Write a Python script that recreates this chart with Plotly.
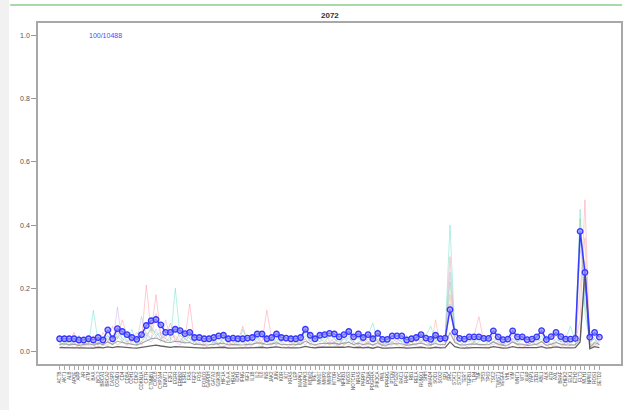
import plotly.graph_objects as go

# ---- data -------------------------------------------------------------
title_text = "2072"
count_text = "100/10488"

labels = ["ACTB","AKT1","ALB","APOE","APP","AR","ATM","BAX","BCL2","BRCA1",
"BRCA2","CASP3","CCND1","CD4","CD8A","CDH1","CDK2","CDKN1A","CFTR","CTNNB1",
"CXCL8","CYP3A4","DNMT1","E2F1","EGFR","ERBB2","ESR1","FAS","FGF2","FOS",
"FOXO3","GAPDH","GATA3","GSK3B","HIF1A","HLA-A","HRAS","IDH1","IFNG","IGF1",
"IL1B","IL2","IL6","INS","JAK2","JUN","KDR","KIT","KRAS","LEP",
"MAPK1","MAPK3","MDM2","MET","MKI67","MMP2","MMP9","MTOR","MYC","NFKB1",
"NOS3","NOTCH1","NRAS","PARP1","PCNA","PDGFRA","PIK3CA","PML","PPARG","PTEN",
"PTGS2","RAC1","RAF1","RB1","RELA","RUNX1","SHH","SMAD4","SOD1","SOX2",
"SP1","SRC","STAT1","STAT3","TERT","TGFB1","TLR4","TNF","TP53","TP63",
"TSC2","TWIST1","VEGFA","VHL","VIM","WNT1","WT1","XIAP","YAP1","ZEB1",
"ABL1","ALK","ATR","AXL","BRAF","CHEK2","ELK1","EZH2","FLT3","MLH1",
"NPM1","ROS1","SETD2"]

# highlighted profile
focus = [0.040,0.040,0.040,0.040,0.036,0.036,0.040,0.036,0.044,0.036,
0.068,0.040,0.072,0.063,0.053,0.044,0.038,0.053,0.082,0.097,
0.101,0.084,0.060,0.060,0.070,0.066,0.056,0.060,0.044,0.044,
0.040,0.040,0.044,0.049,0.051,0.040,0.042,0.040,0.040,0.042,
0.044,0.055,0.055,0.040,0.044,0.055,0.044,0.042,0.040,0.040,
0.044,0.070,0.051,0.040,0.051,0.053,0.057,0.055,0.046,0.053,
0.063,0.046,0.055,0.044,0.053,0.040,0.057,0.038,0.038,0.049,
0.049,0.049,0.036,0.040,0.044,0.053,0.042,0.038,0.051,0.040,
0.042,0.132,0.062,0.041,0.039,0.046,0.046,0.046,0.041,0.041,
0.065,0.046,0.037,0.039,0.065,0.046,0.046,0.037,0.039,0.046,
0.066,0.037,0.047,0.060,0.047,0.039,0.039,0.041,0.380,0.250,
0.045,0.060,0.045]

# summary profiles
dark_profile = [0.012,0.012,0.011,0.012,0.010,0.011,0.012,0.010,0.013,0.011,
0.014,0.012,0.015,0.013,0.012,0.011,0.010,0.012,0.016,0.018,
0.020,0.017,0.014,0.013,0.015,0.014,0.013,0.013,0.011,0.011,
0.010,0.011,0.012,0.012,0.013,0.010,0.011,0.010,0.011,0.011,
0.012,0.014,0.013,0.011,0.012,0.014,0.012,0.011,0.010,0.011,
0.012,0.016,0.013,0.011,0.013,0.013,0.014,0.013,0.012,0.013,
0.015,0.012,0.013,0.011,0.013,0.010,0.014,0.010,0.010,0.012,
0.012,0.012,0.010,0.011,0.012,0.013,0.011,0.010,0.013,0.011,
0.012,0.030,0.015,0.011,0.010,0.012,0.012,0.012,0.011,0.011,
0.015,0.012,0.010,0.011,0.015,0.012,0.012,0.010,0.011,0.012,
0.015,0.010,0.012,0.014,0.012,0.011,0.011,0.012,0.030,0.260,
0.008,0.015,0.012]

mid_profile = [0.022,0.024,0.020,0.023,0.019,0.021,0.024,0.020,0.026,0.021,
0.030,0.022,0.032,0.028,0.025,0.022,0.020,0.026,0.034,0.040,
0.042,0.036,0.029,0.028,0.032,0.030,0.027,0.028,0.022,0.023,
0.020,0.021,0.023,0.025,0.026,0.020,0.022,0.021,0.020,0.022,
0.023,0.027,0.026,0.021,0.023,0.027,0.022,0.021,0.020,0.021,
0.023,0.032,0.025,0.020,0.025,0.026,0.027,0.026,0.023,0.025,
0.029,0.022,0.026,0.021,0.025,0.020,0.027,0.019,0.020,0.024,
0.024,0.024,0.019,0.021,0.023,0.026,0.021,0.020,0.025,0.021,
0.022,0.060,0.028,0.021,0.020,0.023,0.023,0.023,0.021,0.021,
0.030,0.023,0.019,0.020,0.030,0.023,0.023,0.019,0.020,0.023,
0.031,0.019,0.023,0.028,0.023,0.020,0.020,0.021,0.040,0.230,
0.012,0.028,0.022]

# background profiles
pink = [0.02,0.05,0.03,0.06,0.02,0.04,0.03,0.05,0.02,0.06,
0.03,0.08,0.04,0.10,0.05,0.03,0.06,0.04,0.21,0.06,
0.18,0.05,0.04,0.09,0.03,0.06,0.04,0.15,0.03,0.05,
0.02,0.04,0.03,0.05,0.06,0.02,0.04,0.03,0.08,0.03,
0.04,0.05,0.03,0.13,0.04,0.05,0.03,0.04,0.02,0.05,
0.03,0.07,0.04,0.03,0.05,0.06,0.03,0.04,0.02,0.05,
0.06,0.03,0.05,0.02,0.04,0.03,0.07,0.02,0.03,0.04,
0.03,0.05,0.02,0.04,0.03,0.06,0.03,0.02,0.05,0.03,
0.04,0.30,0.05,0.03,0.04,0.03,0.05,0.11,0.03,0.04,
0.05,0.03,0.02,0.04,0.05,0.03,0.04,0.02,0.03,0.05,
0.06,0.03,0.04,0.05,0.03,0.02,0.04,0.03,0.10,0.48,
0.02,0.05,0.03]

teal = [0.03,0.02,0.04,0.02,0.05,0.03,0.02,0.13,0.03,0.02,
0.05,0.03,0.06,0.04,0.03,0.07,0.02,0.05,0.04,0.08,
0.05,0.06,0.04,0.03,0.20,0.05,0.04,0.03,0.05,0.04,
0.03,0.05,0.02,0.04,0.03,0.05,0.04,0.02,0.07,0.03,
0.05,0.04,0.06,0.03,0.04,0.03,0.05,0.04,0.03,0.02,
0.04,0.06,0.03,0.05,0.04,0.03,0.05,0.04,0.03,0.04,
0.03,0.05,0.04,0.03,0.05,0.09,0.03,0.04,0.02,0.05,
0.04,0.03,0.05,0.03,0.04,0.03,0.05,0.08,0.03,0.04,
0.05,0.40,0.06,0.04,0.03,0.05,0.03,0.04,0.05,0.03,
0.04,0.05,0.03,0.04,0.06,0.03,0.05,0.04,0.03,0.04,
0.05,0.03,0.04,0.06,0.03,0.04,0.08,0.03,0.45,0.12,
0.03,0.04,0.02]

green = [0.02,0.03,0.02,0.04,0.03,0.02,0.05,0.03,0.02,0.04,
0.04,0.02,0.05,0.03,0.06,0.02,0.04,0.03,0.05,0.07,
0.06,0.04,0.03,0.05,0.08,0.04,0.03,0.05,0.02,0.04,
0.02,0.03,0.04,0.02,0.05,0.03,0.02,0.04,0.03,0.02,
0.03,0.05,0.02,0.04,0.03,0.02,0.04,0.03,0.05,0.02,
0.03,0.04,0.02,0.05,0.03,0.04,0.02,0.03,0.04,0.02,
0.05,0.02,0.03,0.04,0.02,0.05,0.03,0.02,0.04,0.03,
0.02,0.04,0.03,0.02,0.05,0.03,0.04,0.02,0.03,0.05,
0.03,0.22,0.04,0.02,0.03,0.04,0.02,0.03,0.04,0.02,
0.03,0.04,0.02,0.05,0.03,0.02,0.04,0.03,0.02,0.04,
0.03,0.05,0.02,0.04,0.03,0.05,0.02,0.04,0.42,0.20,
0.02,0.03,0.04]

salmon = [0.01,0.02,0.03,0.01,0.02,0.01,0.03,0.02,0.01,0.02,
0.02,0.04,0.02,0.03,0.02,0.05,0.02,0.03,0.06,0.04,
0.12,0.05,0.03,0.04,0.05,0.03,0.06,0.04,0.03,0.02,
0.02,0.01,0.02,0.03,0.02,0.01,0.03,0.02,0.01,0.02,
0.02,0.03,0.01,0.05,0.02,0.03,0.02,0.01,0.02,0.03,
0.02,0.04,0.02,0.01,0.02,0.03,0.02,0.03,0.01,0.02,
0.03,0.02,0.01,0.02,0.03,0.02,0.04,0.01,0.02,0.03,
0.02,0.01,0.02,0.03,0.02,0.04,0.02,0.01,0.10,0.02,
0.03,0.18,0.03,0.02,0.01,0.02,0.03,0.02,0.02,0.01,
0.03,0.02,0.01,0.02,0.03,0.02,0.01,0.02,0.03,0.02,
0.03,0.02,0.01,0.03,0.02,0.01,0.02,0.02,0.20,0.36,
0.01,0.02,0.02]

lavender = [0.02,0.01,0.02,0.03,0.01,0.02,0.02,0.01,0.03,0.02,
0.03,0.02,0.14,0.03,0.02,0.03,0.05,0.02,0.04,0.03,
0.05,0.03,0.10,0.04,0.03,0.02,0.04,0.03,0.02,0.03,
0.01,0.02,0.03,0.02,0.01,0.03,0.02,0.02,0.03,0.01,
0.02,0.04,0.02,0.03,0.01,0.02,0.03,0.02,0.01,0.02,
0.03,0.02,0.04,0.02,0.01,0.02,0.03,0.02,0.02,0.03,
0.02,0.03,0.02,0.01,0.03,0.02,0.02,0.03,0.01,0.02,
0.03,0.02,0.01,0.02,0.02,0.03,0.02,0.02,0.03,0.01,
0.02,0.15,0.03,0.02,0.02,0.01,0.03,0.02,0.02,0.03,
0.02,0.03,0.02,0.01,0.04,0.02,0.02,0.01,0.03,0.02,
0.02,0.03,0.02,0.02,0.01,0.03,0.02,0.02,0.32,0.28,
0.02,0.02,0.03]

sky = [0.03,0.04,0.02,0.03,0.05,0.02,0.04,0.03,0.02,0.04,
0.05,0.03,0.04,0.06,0.03,0.04,0.03,0.11,0.05,0.04,
0.07,0.04,0.05,0.06,0.04,0.03,0.05,0.04,0.03,0.04,
0.03,0.04,0.03,0.02,0.04,0.03,0.05,0.03,0.04,0.02,
0.04,0.03,0.05,0.03,0.02,0.04,0.03,0.05,0.03,0.04,
0.02,0.05,0.03,0.04,0.03,0.05,0.04,0.03,0.02,0.04,
0.04,0.03,0.02,0.05,0.03,0.04,0.03,0.04,0.02,0.03,
0.04,0.03,0.02,0.04,0.03,0.05,0.03,0.02,0.04,0.03,
0.04,0.25,0.05,0.03,0.02,0.04,0.03,0.05,0.03,0.04,
0.03,0.05,0.02,0.03,0.04,0.03,0.05,0.02,0.04,0.03,
0.04,0.03,0.05,0.03,0.04,0.02,0.03,0.04,0.36,0.15,
0.03,0.04,0.02]

background = [
    (pink, "rgba(255,120,140,0.38)"),
    (teal, "rgba(60,215,185,0.38)"),
    (green, "rgba(120,205,120,0.38)"),
    (salmon, "rgba(240,150,110,0.38)"),
    (lavender, "rgba(190,150,230,0.38)"),
    (sky, "rgba(130,180,240,0.38)"),
]

# ---- figure -----------------------------------------------------------
x = list(range(len(labels)))
n = len(labels)
pad = 0.04 * (n - 1)

fig = go.Figure()

for values, color in background:
    fig.add_trace(go.Scatter(x=x, y=values, mode="lines",
                             line=dict(color=color, width=1),
                             hoverinfo="skip", showlegend=False))

fig.add_trace(go.Scatter(x=x, y=mid_profile, mode="lines",
                         line=dict(color="rgba(140,140,140,0.75)", width=1.1),
                         showlegend=False))
fig.add_trace(go.Scatter(x=x, y=dark_profile, mode="lines",
                         line=dict(color="rgba(70,70,70,0.85)", width=1.3),
                         showlegend=False))
fig.add_trace(go.Scatter(x=x, y=focus, mode="lines+markers",
                         line=dict(color="#3a3aff", width=1.5),
                         marker=dict(symbol="circle", size=5.5,
                                     color="rgba(150,150,255,0.7)",
                                     line=dict(color="#3535ff", width=1.3)),
                         showlegend=False))

# plot area spans x 38..623 px and y 23..364 px of the page
L, R, T, B, W, H = 38, 1, 23, 46, 624, 410
pw, ph = W - L - R, H - T - B

def px_x(p):
    return (p - L) / pw

def px_y(p):
    return (H - B - p) / ph

fig.update_layout(
    width=W, height=H,
    margin=dict(l=L, r=R, t=T, b=B),
    paper_bgcolor="white", plot_bgcolor="white",
    font=dict(family="Liberation Sans, Arial, sans-serif", color="#444"),
    xaxis=dict(range=[-pad, n - 1 + pad], tickmode="array", tickvals=x,
               ticktext=labels, tickangle=-90, tickfont=dict(size=4.5, color="#555"),
               ticks="outside", ticklen=4, tickcolor="#aaa", tickwidth=1,
               showgrid=False, zeroline=False, showline=True, mirror=True,
               linecolor="#a8a8a8", linewidth=1.5),
    yaxis=dict(range=[-0.04, 1.04], tickvals=[0, 0.2, 0.4, 0.6, 0.8, 1.0],
               tickformat=".1f", tickfont=dict(size=7, color="#555"),
               ticks="outside", ticklen=5, tickcolor="#999", tickwidth=1,
               showgrid=False, zeroline=False, showline=True, mirror=True,
               linecolor="#a8a8a8", linewidth=1.5),
    shapes=[
        dict(type="rect", xref="paper", yref="paper",
             x0=px_x(0), x1=px_x(9), y0=px_y(H), y1=px_y(0),
             fillcolor="#f1f1f1", line=dict(width=0), layer="below"),
        dict(type="line", xref="paper", yref="paper",
             x0=px_x(10), x1=px_x(W), y0=px_y(5), y1=px_y(5),
             line=dict(color="#a9d9a9", width=2)),
    ],
    annotations=[
        dict(text="<b>" + title_text + "</b>", xref="paper", yref="paper",
             x=0.5, y=px_y(15), xanchor="center", yanchor="middle",
             showarrow=False, font=dict(size=8, color="#333")),
        dict(text=count_text, xref="x", yref="y", x=5.7, y=1.0,
             xanchor="left", yanchor="middle", showarrow=False,
             font=dict(size=7, color="#4a4aff")),
    ],
)

fig.write_html("out.html")
